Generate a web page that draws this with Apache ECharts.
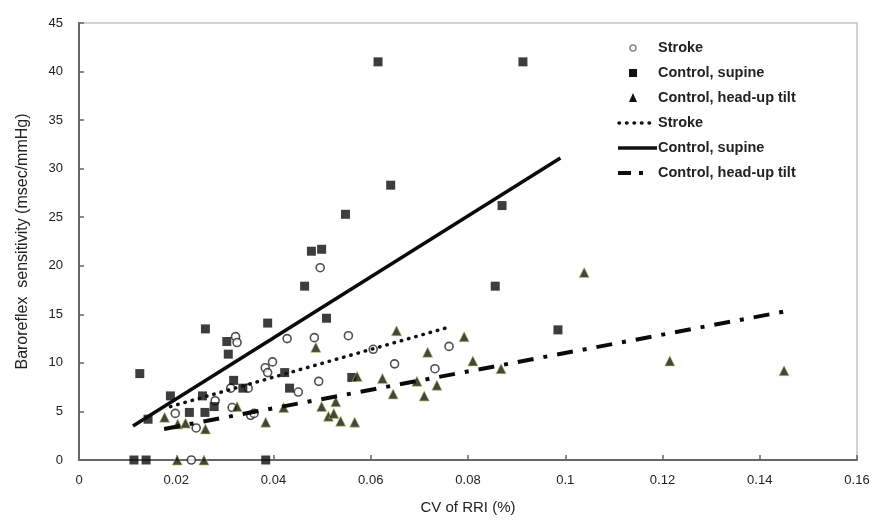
<!DOCTYPE html>
<html>
<head>
<meta charset="utf-8">
<script src="https://cdn.jsdelivr.net/npm/echarts@6/dist/echarts.min.js"></script>
<style>
  html, body { margin: 0; padding: 0; background: #fff; }
  #chart { width: 874px; height: 525px; }
</style>
</head>
<body>
<div id="chart"></div>
<script>
// scatter data: [CV of RRI, BRS]
const strokePoints = [
  [0.0231, 0], [0.0198, 4.8], [0.0241, 3.3], [0.028, 6.1], [0.0315, 5.4], [0.0312, 7.4],
  [0.0348, 7.4], [0.0353, 4.6], [0.036, 4.8], [0.0322, 12.7], [0.0325, 12.1], [0.0383, 9.5],
  [0.0388, 9.0], [0.0398, 10.1], [0.0428, 12.5], [0.0451, 7.0], [0.0484, 12.6], [0.0493, 8.1],
  [0.0496, 19.8], [0.0554, 12.8], [0.0605, 11.4], [0.0649, 9.9], [0.0732, 9.4], [0.0761, 11.7]
]
const supinePoints = [
  [0.0113, 0], [0.0138, 0], [0.0384, 0], [0.0125, 8.9], [0.0142, 4.2], [0.0188, 6.6],
  [0.0227, 4.9], [0.0254, 6.6], [0.0259, 4.9], [0.026, 13.5], [0.0278, 5.5], [0.0304, 12.2],
  [0.0307, 10.9], [0.0318, 8.2], [0.0337, 7.4], [0.0388, 14.1], [0.0423, 9.0], [0.0433, 7.4],
  [0.0464, 17.9], [0.0478, 21.5], [0.0499, 21.7], [0.0509, 14.6], [0.0548, 25.3], [0.0561, 8.5],
  [0.0615, 41.0], [0.0641, 28.3], [0.0856, 17.9], [0.087, 26.2], [0.0913, 41.0], [0.0985, 13.4]
]
const tiltPoints = [
  [0.0202, 0], [0.0257, 0], [0.0176, 4.4], [0.0203, 3.7], [0.0219, 3.8], [0.026, 3.2],
  [0.0325, 5.5], [0.0384, 3.9], [0.0421, 5.4], [0.0487, 11.6], [0.0499, 5.5], [0.0513, 4.5],
  [0.0524, 4.8], [0.0528, 6.0], [0.0538, 4.0], [0.0567, 3.9], [0.0572, 8.6], [0.0624, 8.4],
  [0.0646, 6.8], [0.0653, 13.3], [0.0695, 8.1], [0.071, 6.6], [0.0717, 11.1], [0.0736, 7.7],
  [0.0792, 12.7], [0.081, 10.2], [0.0868, 9.4], [0.1039, 19.3], [0.1215, 10.2], [0.145, 9.2]
]

// regression lines (end points)
const strokeFit = [[0.0188, 5.5], [0.0755, 13.6]]
const supineFit = [[0.0111, 3.5], [0.099, 31.1]]
const tiltFit = [[0.0175, 3.2], [0.1452, 15.3]]

const legendNames = ['Stroke', 'Control, supine', 'Control, head-up tilt']

const chart = echarts.init(document.getElementById('chart'))

const font = '"Liberation Sans", Arial, sans-serif'
const triFill = '#151510'
const triEdge = '#b8c45e'

// legend drawn by hand so the line samples show their dash patterns
const legendX = 618
const legendTop = 48
const rowGap = 25
const legendGraphics = []
legendNames.forEach((name, i) => {
  ;[i, i + 3].forEach(row => {
    legendGraphics.push({
      type: 'text', x: legendX + 40, y: legendTop + row * rowGap,
      style: { text: name, font: 'bold 14.5px ' + font, fill: '#222', verticalAlign: 'middle' }
    })
  })
})
legendGraphics.push(
  { type: 'circle', shape: { cx: legendX + 15, cy: legendTop, r: 3 }, style: { fill: '#fff', stroke: '#888', lineWidth: 1.5 } },
  { type: 'rect', shape: { x: legendX + 11, y: legendTop + rowGap - 4, width: 8, height: 8 }, style: { fill: '#111' } },
  { type: 'polygon', shape: { points: [[legendX + 15, legendTop + 2 * rowGap - 5], [legendX + 19, legendTop + 2 * rowGap + 4], [legendX + 11, legendTop + 2 * rowGap + 4]] }, style: { fill: '#111' } },
  { type: 'line', shape: { x1: legendX + 1, y1: legendTop + 3 * rowGap, x2: legendX + 38, y2: legendTop + 3 * rowGap }, style: { stroke: '#111', lineWidth: 3.5, lineDash: [0.5, 7], lineCap: 'round' } },
  { type: 'line', shape: { x1: legendX, y1: legendTop + 4 * rowGap, x2: legendX + 39, y2: legendTop + 4 * rowGap }, style: { stroke: '#111', lineWidth: 3.5 } },
  { type: 'line', shape: { x1: legendX, y1: legendTop + 5 * rowGap, x2: legendX + 39, y2: legendTop + 5 * rowGap }, style: { stroke: '#111', lineWidth: 4, lineDash: [13, 8, 4, 30] } }
)

const option = {
  backgroundColor: '#fff',
  animation: false,
  grid: {
    left: 79, right: 17, top: 23, bottom: 65,
    show: true, borderColor: '#c4c4c4', borderWidth: 1.5
  },
  xAxis: {
    type: 'value', min: 0, max: 0.16, interval: 0.02,
    name: 'CV of RRI (%)', nameLocation: 'middle', nameGap: 40,
    nameTextStyle: { fontFamily: font, fontSize: 15, color: '#222' },
    axisLine: { lineStyle: { color: '#666', width: 2 } },
    axisTick: { inside: true, length: 5, lineStyle: { color: '#666', width: 1.5 } },
    axisLabel: { margin: 14, fontFamily: font, fontSize: 13, color: '#222' },
    splitLine: { show: false }
  },
  yAxis: {
    type: 'value', min: 0, max: 45, interval: 5,
    name: 'Baroreflex  sensitivity (msec/mmHg)', nameLocation: 'middle', nameGap: 48,
    nameTextStyle: { fontFamily: font, fontSize: 16, color: '#222' },
    axisLine: { show: true, lineStyle: { color: '#666', width: 2 } },
    axisTick: { show: true, inside: true, length: 5, lineStyle: { color: '#666', width: 1.5 } },
    axisLabel: { margin: 16, fontFamily: font, fontSize: 13, color: '#222' },
    splitLine: { show: false }
  },
  graphic: legendGraphics,
  series: [
    {
      name: 'Stroke', type: 'scatter', data: strokePoints, clip: false,
      symbol: 'circle', symbolSize: 8,
      itemStyle: { color: '#fff', borderColor: '#222', borderWidth: 1.6 }
    },
    {
      name: 'Control, supine', type: 'scatter', data: supinePoints, clip: false,
      symbol: 'rect', symbolSize: 9,
      itemStyle: { color: '#0d0d0d' }
    },
    {
      name: 'Control, head-up tilt', type: 'scatter', data: tiltPoints, clip: false,
      symbol: 'triangle', symbolSize: 10,
      itemStyle: { color: triFill, borderColor: triEdge, borderWidth: 0.8 }
    },
    {
      name: 'Stroke fit', type: 'line', data: strokeFit, symbol: 'none',
      lineStyle: { color: '#111', width: 3.5, type: [0.5, 7], cap: 'round' }
    },
    {
      name: 'Control, supine fit', type: 'line', data: supineFit, symbol: 'none',
      lineStyle: { color: '#0a0a0a', width: 3.5 }
    },
    {
      name: 'Control, head-up tilt fit', type: 'line', data: tiltFit, symbol: 'none',
      lineStyle: { color: '#0a0a0a', width: 4, type: [16, 10, 4, 10] }
    }
  ]
}

chart.setOption(option)
</script>
</body>
</html>
